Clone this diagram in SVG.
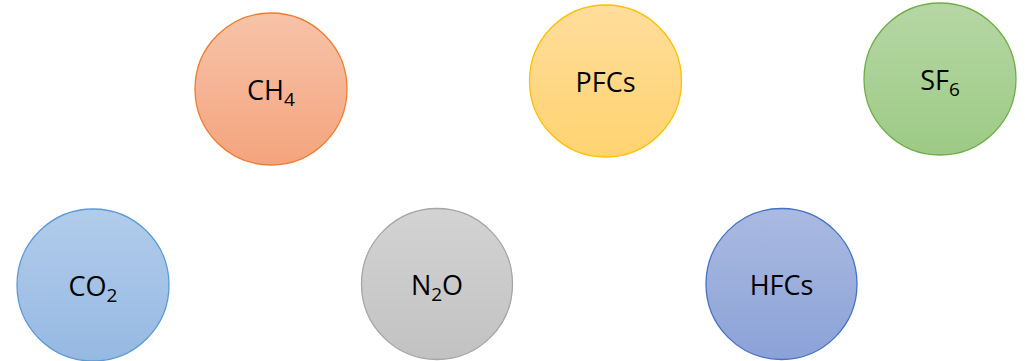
<svg xmlns="http://www.w3.org/2000/svg" width="1025" height="361" viewBox="0 0 1025 361">
<defs>
<linearGradient id="gOr" x1="0" y1="0" x2="0" y2="1"><stop offset="0" stop-color="#F7C3A9"/><stop offset="1" stop-color="#F4A47E"/></linearGradient>
<linearGradient id="gYe" x1="0" y1="0" x2="0" y2="1"><stop offset="0" stop-color="#FFDD9C"/><stop offset="1" stop-color="#FFD370"/></linearGradient>
<linearGradient id="gGr" x1="0" y1="0" x2="0" y2="1"><stop offset="0" stop-color="#B6D7A5"/><stop offset="1" stop-color="#9DCA85"/></linearGradient>
<linearGradient id="gBl" x1="0" y1="0" x2="0" y2="1"><stop offset="0" stop-color="#B2CCEB"/><stop offset="1" stop-color="#96B9E2"/></linearGradient>
<linearGradient id="gGy" x1="0" y1="0" x2="0" y2="1"><stop offset="0" stop-color="#D3D3D3"/><stop offset="1" stop-color="#C2C2C2"/></linearGradient>
<linearGradient id="gDb" x1="0" y1="0" x2="0" y2="1"><stop offset="0" stop-color="#AABAE1"/><stop offset="1" stop-color="#8CA2D7"/></linearGradient>
</defs>
<style>
circle{stroke-width:1.3}
text{font-family:"Open Sans","Noto Sans","Liberation Sans",sans-serif;font-size:27px;fill:#000;text-anchor:middle}
.sub{font-size:19px}
</style>
<rect width="1025" height="361" fill="#fff"/>
<g id="connectors"/>
<g id="ch4"><circle cx="271" cy="89" r="76" fill="url(#gOr)" stroke="#ED7D31"/><text x="271" y="100">CH<tspan class="sub" dy="6">4</tspan></text></g>
<g id="pfcs"><circle cx="605.5" cy="81" r="76" fill="url(#gYe)" stroke="#FFC000"/><text x="605.5" y="92">PFCs</text></g>
<g id="sf6"><circle cx="940" cy="79" r="76" fill="url(#gGr)" stroke="#70AD47"/><text x="940" y="90">SF<tspan class="sub" dy="6">6</tspan></text></g>
<g id="co2"><circle cx="93" cy="285" r="76" fill="url(#gBl)" stroke="#5B9BD5"/><text x="93" y="296">CO<tspan class="sub" dy="6">2</tspan></text></g>
<g id="n2o"><circle cx="437" cy="284" r="75.5" fill="url(#gGy)" stroke="#A5A5A5"/><text x="437" y="295">N<tspan class="sub" dy="6">2</tspan><tspan dy="-6">O</tspan></text></g>
<g id="hfcs"><circle cx="781.5" cy="284" r="75.5" fill="url(#gDb)" stroke="#4472C4"/><text x="781.5" y="295">HFCs</text></g>
</svg>
